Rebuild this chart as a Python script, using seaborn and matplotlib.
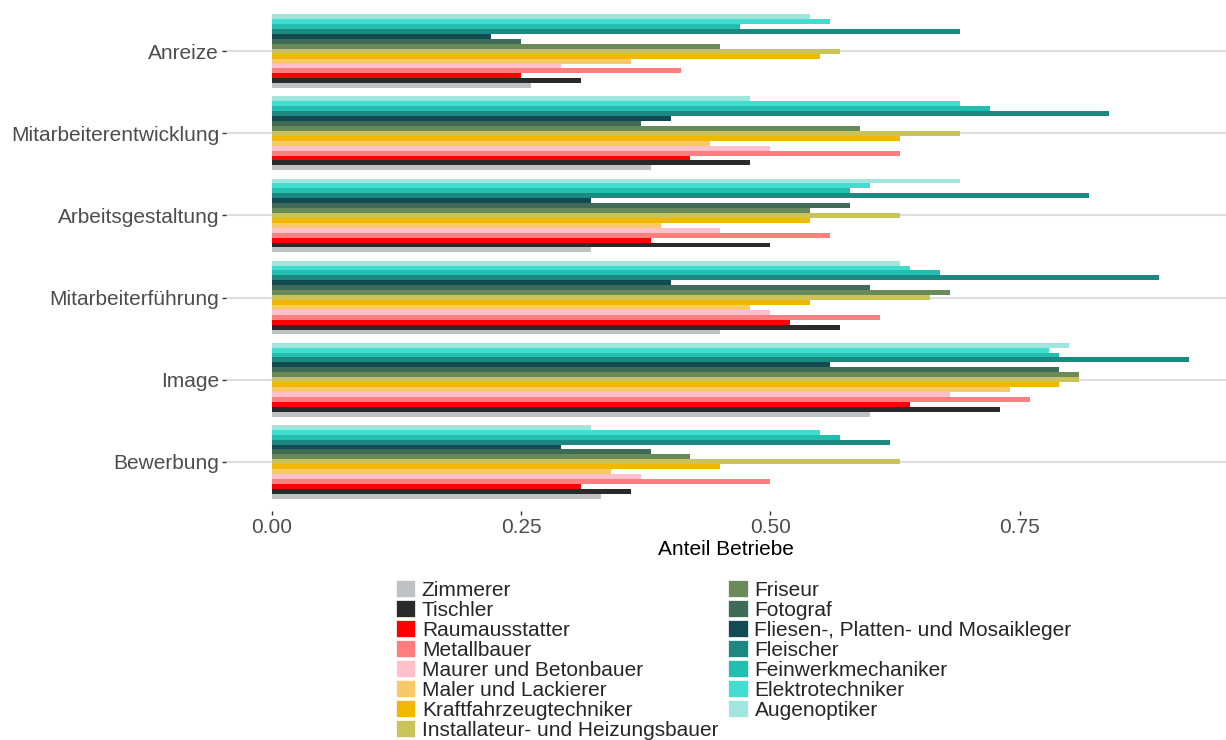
import matplotlib
matplotlib.use("Agg")
import matplotlib.pyplot as plt
import seaborn as sns
import pandas as pd
from matplotlib.patches import Patch

categories = ["Anreize", "Mitarbeiterentwicklung", "Arbeitsgestaltung",
              "Mitarbeiterführung", "Image", "Bewerbung"]

series = ["Zimmerer", "Tischler", "Raumausstatter", "Metallbauer",
          "Maurer und Betonbauer", "Maler und Lackierer", "Kraftfahrzeugtechniker",
          "Installateur- und Heizungsbauer", "Friseur", "Fotograf",
          "Fliesen-, Platten- und Mosaikleger", "Fleischer", "Feinwerkmechaniker",
          "Elektrotechniker", "Augenoptiker"]

# values per series, in the order of `categories`
zimmerer       = [0.26, 0.38, 0.32, 0.45, 0.60, 0.33]
tischler       = [0.31, 0.48, 0.50, 0.57, 0.73, 0.36]
raumausstatter = [0.25, 0.42, 0.38, 0.52, 0.64, 0.31]
metallbauer    = [0.41, 0.63, 0.56, 0.61, 0.76, 0.50]
maurer         = [0.29, 0.50, 0.45, 0.50, 0.68, 0.37]
maler          = [0.36, 0.44, 0.39, 0.48, 0.74, 0.34]
kfz            = [0.55, 0.63, 0.54, 0.54, 0.79, 0.45]
installateur   = [0.57, 0.69, 0.63, 0.66, 0.81, 0.63]
friseur        = [0.45, 0.59, 0.54, 0.68, 0.81, 0.42]
fotograf       = [0.25, 0.37, 0.58, 0.60, 0.79, 0.38]
fliesen        = [0.22, 0.40, 0.32, 0.40, 0.56, 0.29]
fleischer      = [0.69, 0.84, 0.82, 0.89, 0.92, 0.62]
feinwerk       = [0.47, 0.72, 0.58, 0.67, 0.79, 0.57]
elektro        = [0.56, 0.69, 0.60, 0.64, 0.78, 0.55]
augenoptiker   = [0.54, 0.48, 0.69, 0.63, 0.80, 0.32]

values = [zimmerer, tischler, raumausstatter, metallbauer, maurer, maler, kfz,
          installateur, friseur, fotograf, fliesen, fleischer, feinwerk,
          elektro, augenoptiker]

colors = ["#BEC2C5", "#2A2A2A", "#FF0000", "#FF7F7F", "#FFC0CB", "#F9C869",
          "#F2B705", "#C9C35A", "#6B8A5A", "#3F6B57", "#134B55", "#1D8781",
          "#22BFB0", "#40DDD0", "#A0E6DF"]

rows = []
for s, vals in zip(series, values):
    for c, v in zip(categories, vals):
        rows.append({"Kategorie": c, "Beruf": s, "Anteil": v})
df = pd.DataFrame(rows)

palette = dict(zip(series, colors))

sns.set_theme(style="white")
plt.rcParams["font.family"] = ["Liberation Sans", "DejaVu Sans"]

FS = 15

fig = plt.figure(figsize=(12.26, 7.40), dpi=100)
ax = fig.add_axes([226 / 1226, 1 - 511 / 740, 1000 / 1226, 509 / 740])

sns.barplot(data=df, y="Kategorie", x="Anteil", hue="Beruf",
            order=categories, hue_order=series[::-1], palette=palette,
            orient="h", width=0.9, saturation=1, errorbar=None,
            legend=False, ax=ax, linewidth=0)

ax.set_xlim(-0.0458, 0.957)
ax.set_ylim(len(categories) - 0.4, -0.6)
ax.set_xticks([0.0, 0.25, 0.5, 0.75])
ax.set_xticklabels(["0.00", "0.25", "0.50", "0.75"])
ax.set_xlabel("Anteil Betriebe", fontsize=FS, color="black", labelpad=2)
ax.set_ylabel("")
for sp in ax.spines.values():
    sp.set_visible(False)
ax.grid(False)
ax.set_axisbelow(True)
for i in range(len(categories)):
    ax.axhline(i, color="#DEDEDE", linewidth=1.5, zorder=0)
ax.tick_params(axis="y", length=3, width=1, color="#333333", labelsize=FS,
               labelcolor="#4D4D4D", pad=2, left=True)
ax.tick_params(axis="x", length=3, width=1, color="#333333", labelsize=FS,
               labelcolor="#4D4D4D", pad=2, bottom=True)

handles = [Patch(facecolor=c, edgecolor="white", linewidth=0.5) for c in colors]
fig.legend(handles, series, loc="upper left",
           bbox_to_anchor=(395.5 / 1226, 1 - 579.5 / 740), ncol=2, frameon=False,
           fontsize=FS, borderpad=0, handlelength=0.93, handleheight=0.93,
           handletextpad=0.33, labelspacing=0.0, columnspacing=0.48,
           borderaxespad=0)

fig.savefig("out.png", dpi=100)
